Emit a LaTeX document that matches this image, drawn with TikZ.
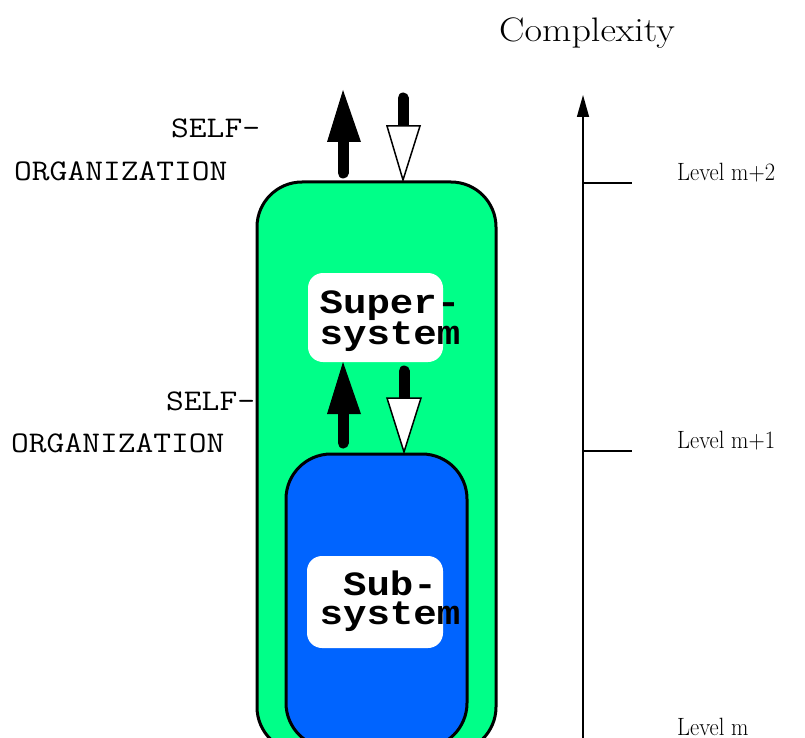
\documentclass[tikz,border=0pt]{standalone}
\usepackage{fontspec}
\usetikzlibrary{arrows.meta}
\newfontfamily\boxfont[FakeStretch=1.15]{Liberation Mono}
\newfontfamily\labelfont[FakeStretch=1.15]{Latin Modern Mono}
\newfontfamily\cplxfont[FakeStretch=1.12]{Latin Modern Roman}
\newfontfamily\levelfont[FakeStretch=0.9]{Latin Modern Roman}
\definecolor{boxgreen}{RGB}{0,255,136}
\definecolor{boxblue}{RGB}{0,100,255}
\begin{document}
\begin{tikzpicture}[x=1pt,y=-1pt,
  sysbox/.style={draw=black,line width=3pt,rounded corners=45pt,inner sep=0pt,outer sep=0pt},
  whitebox/.style={fill=white,rounded corners=15pt,inner sep=0pt,outer sep=0pt},
  boxtext/.style={font=\boxfont\bfseries\fontsize{34}{29}\selectfont,align=center,inner sep=0pt},
  sidelabel/.style={font=\labelfont\fontsize{30}{30}\selectfont,inner sep=0pt,anchor=base west},
  levellabel/.style={font=\levelfont\fontsize{25}{25}\selectfont,inner sep=0pt,anchor=base west},
  blackshaft/.style={line width=11pt,line cap=round,black},
  headblack/.style={fill=black},
  headwhite/.style={fill=white,draw=black,line width=1.5pt,line join=miter},
  tick/.style={line width=1.5pt}
]
\useasboundingbox (0,0) rectangle (805,738);
% boxes
\node[sysbox,fill=boxgreen,minimum width=239pt,minimum height=570pt] (outer) at (376.5,467) {};
\node[sysbox,fill=boxblue,minimum width=181pt,minimum height=294pt] (inner) at (376.5,601) {};
\node[whitebox,minimum width=135pt,minimum height=89pt] (superbox) at (375.5,317.5) {};
\node[whitebox,minimum width=136pt,minimum height=92pt] (subbox) at (375,602) {};
\node[boxtext] (supertext) at (390,321) {Super-\\system};
\node[boxtext] (subtext) at (390,601) {Sub-\\system};
% side labels
\node[sidelabel] (self1) at (171,138) {SELF-};
\node[sidelabel] (org1) at (14,180) {ORGANIZATION};
\node[sidelabel] (self2) at (166,410) {SELF-};
\node[sidelabel] (org2) at (11,452) {ORGANIZATION};
% arrow coordinates
\coordinate (a1s) at (343,173);
\coordinate (a1b) at (343,142);
\coordinate (a2s) at (403,98);
\coordinate (a2b) at (403,127);
\coordinate (a3s) at (343,443);
\coordinate (a3b) at (343,414);
\coordinate (a4s) at (404,371);
\coordinate (a4b) at (404,399);
% top pair
\draw[blackshaft] (a1s) -- (a1b);
\fill[headblack] (327,142) -- (361,142) -- (343,90) -- cycle;
\draw[blackshaft] (a2s) -- (a2b);
\draw[headwhite] (387,126) -- (420,126) -- (403,180) -- cycle;
% middle pair
\draw[blackshaft] (a3s) -- (a3b);
\fill[headblack] (327,414) -- (361,414) -- (343,362) -- cycle;
\draw[blackshaft] (a4s) -- (a4b);
\draw[headwhite] (387,398) -- (421,398) -- (404,452) -- cycle;
% complexity axis
\node[font=\cplxfont\fontsize{34}{34}\selectfont,inner sep=0pt,anchor=base west] (cplx) at (499,42) {Complexity};
\coordinate (axbot) at (583,745);
\coordinate (axtop) at (583,95);
\draw[line width=1.5pt,-{Triangle[length=22pt,width=12pt]}] (axbot) -- (axtop);
\coordinate (t2) at (583,183);
\coordinate (t2e) at (632,183);
\coordinate (t1) at (583,451);
\coordinate (t1e) at (632,451);
\draw[tick] (t2) -- (t2e);
\draw[tick] (t1) -- (t1e);
\node[levellabel] (lv2) at (677,180) {Level m+2};
\node[levellabel] (lv1) at (677,448) {Level m+1};
\node[levellabel] (lv0) at (677,735) {Level m};
\end{tikzpicture}
\end{document}
